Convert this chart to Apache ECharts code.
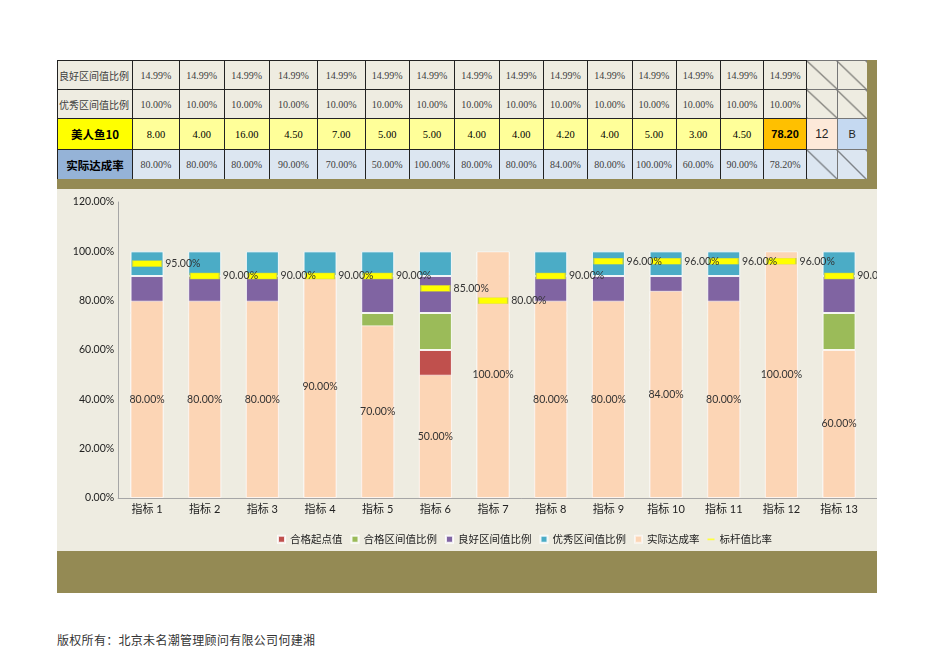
<!DOCTYPE html>
<html><head><meta charset="utf-8">
<script src="https://cdn.jsdelivr.net/npm/echarts@6/dist/echarts.min.js"></script>
<style>
html,body{margin:0;padding:0;background:#fff;width:950px;height:672px;overflow:hidden;}
#tbl{position:absolute;left:57px;top:60px;border-collapse:collapse;table-layout:fixed;font-family:"Liberation Serif","DejaVu Serif","Noto Sans CJK SC",serif;}
#tbl td{border:1px solid #222;padding:0;text-align:center;font-size:10px;color:#404040;overflow:hidden;white-space:nowrap;}
#tbl td.lab{text-align:left;font-family:"Noto Sans CJK SC",sans-serif;font-size:10px;color:#404040;padding-left:1px;}
#tbl td.big{font-family:"Noto Sans CJK SC",sans-serif;font-weight:bold;font-size:11.5px;color:#000;text-align:center;}
#tbl td.diag{border-color:#777;background-image:linear-gradient(to top right,transparent calc(50% - 0.7px),#222 50%,transparent calc(50% + 0.7px));}
#olR{position:absolute;left:867px;top:60px;width:10px;height:130px;background:#948a54;}
#olT{position:absolute;left:57px;top:179px;width:820px;height:10px;background:#948a54;}
#olB{position:absolute;left:57px;top:551px;width:820px;height:42px;background:#948a54;}
#wrap{position:absolute;left:57px;top:189px;width:820px;height:362px;overflow:hidden;background:#eeece1;}
#chart{position:absolute;left:0;top:0;width:880px;height:362px;}
#foot{position:absolute;left:57px;top:631px;font-family:"Noto Sans CJK SC",serif;font-size:12px;color:#333;letter-spacing:0.3px;}
</style></head>
<body>
<table id="tbl"></table>
<div id="olR"></div><div id="olT"></div><div id="olB"></div>
<div id="wrap"><div id="chart"></div></div>
<div id="foot">版权所有：北京未名潮管理顾问有限公司何建湘</div>
<script>
// ---- data ----
const categories = ['指标 1','指标 2','指标 3','指标 4','指标 5','指标 6','指标 7','指标 8','指标 9','指标 10','指标 11','指标 12','指标 13','指标 14'];
const passStart   = [60,60,60,60,60,60,60,60,60,60,60,60,60,60];
const passRange   = [15,15,15,15,15,15,15,15,15,15,15,15,15,15];
const goodRange   = [14.99,14.99,14.99,14.99,14.99,14.99,14.99,14.99,14.99,14.99,14.99,14.99,14.99,14.99];
const excelRange  = [10,10,10,10,10,10,10,10,10,10,10,10,10,10];
const actualRate  = [80,80,80,90,70,50,100,80,80,84,80,100,60,90];
const benchmark   = [95,90,90,90,90,85,80,90,96,96,96,96,90,null];
const scores      = ['8.00','4.00','16.00','4.50','7.00','5.00','5.00','4.00','4.00','4.20','4.00','5.00','3.00','4.50'];
const totalScore  = '78.20';
const totalRate   = '78.20%';
const rankValue   = '12';
const gradeValue  = 'B';
const yTicks = {min:0, max:120, interval:20};

// ---- table ----
const colW = [75,47,44.5,45.5,48,47.5,44.5,45,44.5,44.5,44,44.5,44,44.3,43.3,43,30.5,30];
const rowH = [29,29,31,30];
(function(){
  const t = document.getElementById('tbl');
  let cg = '<colgroup>' + colW.map(w=>'<col style="width:'+w+'px">').join('') + '</colgroup>';
  const pct = v => v.toFixed(2)+'%';
  let rows = [];
  let r = '<tr style="height:'+rowH[0]+'px"><td class="lab" style="background:#eeece1">良好区间值比例</td>';
  goodRange.forEach(v=>{ r+='<td style="background:#eeece1">'+pct(v)+'</td>'; });
  r += '<td style="background:#eeece1">'+pct(goodRange[0])+'</td><td class="diag" style="background-color:#eeece1"></td><td class="diag" style="background-color:#eeece1"></td></tr>';
  rows.push(r);
  r = '<tr style="height:'+rowH[1]+'px"><td class="lab" style="background:#eeece1">优秀区间值比例</td>';
  excelRange.forEach(v=>{ r+='<td style="background:#eeece1">'+pct(v)+'</td>'; });
  r += '<td style="background:#eeece1">'+pct(excelRange[0])+'</td><td class="diag" style="background-color:#eeece1"></td><td class="diag" style="background-color:#eeece1"></td></tr>';
  rows.push(r);
  r = '<tr style="height:'+rowH[2]+'px"><td class="big" style="background:#ffff00">美人鱼10</td>';
  scores.forEach(v=>{ r+='<td style="background:#ffff99;color:#000;font-size:10.5px">'+v+'</td>'; });
  r += '<td style="background:#ffc000;color:#000;font-weight:bold;font-family:\'Liberation Sans\',sans-serif;font-size:11px">'+totalScore+'</td>';
  r += '<td style="background:#fde9d9;color:#222;font-family:\'Liberation Sans\',sans-serif;font-size:12px;border-color:#777">'+rankValue+'</td>';
  r += '<td style="background:#c5d9f1;color:#222;font-family:\'Liberation Sans\',sans-serif;font-size:11px;border-color:#777">'+gradeValue+'</td></tr>';
  rows.push(r);
  r = '<tr style="height:'+rowH[3]+'px"><td class="big" style="background:#95b3d7">实际达成率</td>';
  actualRate.forEach(v=>{ r+='<td style="background:#dce6f1">'+pct(v)+'</td>'; });
  r += '<td style="background:#dce6f1">'+totalRate+'</td><td class="diag" style="background-color:#dce6f1"></td><td class="diag" style="background-color:#dce6f1"></td></tr>';
  rows.push(r);
  t.innerHTML = cg + rows.join('');
})();

// ---- chart ----
const chart = echarts.init(document.getElementById('chart'), null, {renderer:'canvas'});
const fnt = 'Lato, "Noto Sans CJK SC", sans-serif';
const pf = v => (v==null?'':Number(v).toFixed(2)+'%');
const segStyle = c => ({color:c, borderColor:'rgba(255,255,255,0.85)', borderWidth:1});
const barW = 33;
chart.setOption({
  backgroundColor:'#eeece1',
  animation:false,
  textStyle:{fontFamily:fnt},
  grid:{left:61.2, right:11.4, top:13, bottom:53, containLabel:false},
  legend:{
    left:220, top:345, padding:0, itemWidth:7, itemHeight:7, itemGap:8,
    textStyle:{fontSize:10.5, color:'#222', fontFamily:fnt},
    data:[
      {name:'合格起点值', icon:'rect'},
      {name:'合格区间值比例', icon:'rect'},
      {name:'良好区间值比例', icon:'rect'},
      {name:'优秀区间值比例', icon:'rect'},
      {name:'实际达成率', icon:'rect'},
      {name:'标杆值比率', icon:'path://M0,0L0.1,0L0.1,0.1L0,0.1ZM0,4L10,4L10,6.5L0,6.5ZM9.9,9.9L10,9.9L10,10L9.9,10Z', itemStyle:{color:'#ffff40', borderWidth:0}}
    ]
  },
  xAxis:{
    type:'category', data:categories,
    axisLine:{lineStyle:{color:'#a6a6a6'}},
    axisTick:{show:false},
    axisLabel:{fontSize:11, color:'#222', margin:6, fontFamily:fnt}
  },
  yAxis:{
    type:'value', min:yTicks.min, max:yTicks.max, interval:yTicks.interval,
    axisLine:{show:true, lineStyle:{color:'#a6a6a6'}},
    axisTick:{show:false},
    splitLine:{show:false},
    axisLabel:{fontSize:10.5, color:'#222', margin:4, formatter:v=>v.toFixed(2)+'%', fontFamily:fnt}
  },
  series:[
    {name:'合格起点值', type:'bar', stack:'band', barWidth:barW, data:passStart, itemStyle:segStyle('#c0504d')},
    {name:'合格区间值比例', type:'bar', stack:'band', barWidth:barW, data:passRange, itemStyle:segStyle('#9bbb59')},
    {name:'良好区间值比例', type:'bar', stack:'band', barWidth:barW, data:goodRange, itemStyle:segStyle('#8064a2')},
    {name:'优秀区间值比例', type:'bar', stack:'band', barWidth:barW, data:excelRange, itemStyle:segStyle('#4bacc6')},
    {name:'实际达成率', type:'bar', barWidth:barW, barGap:'-100%', data:actualRate,
      itemStyle:{color:'#fcd5b5', borderColor:'rgba(255,255,255,0.6)', borderWidth:1},
      label:{show:true, position:'inside', fontSize:10.5, color:'#333', formatter:p=>pf(p.value), fontFamily:fnt}},
    {name:'标杆值比率', type:'scatter', data:benchmark, symbol:'rect', symbolSize:[29,6], z:5,
      itemStyle:{color:'#ffff00', borderColor:'#c8d24a', borderWidth:0.6, opacity:1},
      label:{show:true, position:'right', distance:3, fontSize:10.5, color:'#333', formatter:p=>pf(p.value), fontFamily:fnt}}
  ]
});
</script>
</body></html>
